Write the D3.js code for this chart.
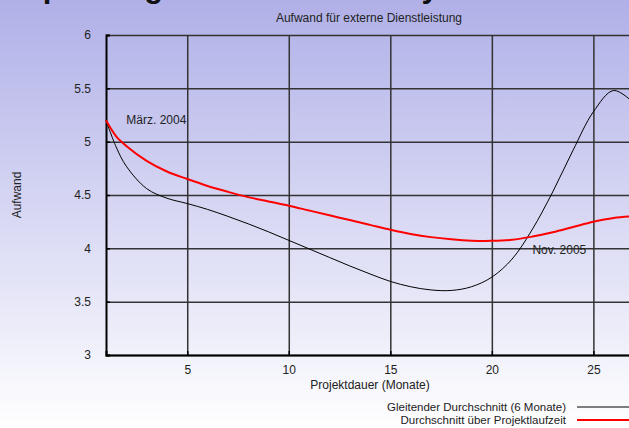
<!DOCTYPE html>
<html>
<head>
<meta charset="utf-8">
<script src="https://cdn.jsdelivr.net/npm/d3@7"></script>
<style>
  body { margin: 0; }
  svg { display: block; font-family: "Liberation Sans", Arial, sans-serif; }
</style>
</head>
<body>
<div class="chart"></div>
<script>
// data
const months = [1, 1.5, 2, 3, 4, 5, 6, 7, 8, 9, 10, 11, 12, 13, 14, 15, 16, 17, 18, 19, 20, 21, 22, 23, 24, 25, 26, 27];
const movingAvg = [5.2, 4.95, 4.77, 4.56, 4.47, 4.42, 4.365, 4.30, 4.23, 4.155, 4.075, 3.995, 3.915, 3.835, 3.76, 3.69, 3.64, 3.61, 3.605, 3.64, 3.73, 3.90, 4.18, 4.53, 4.92, 5.28, 5.48, 5.36];
const projectAvg = [5.2, 5.05, 4.96, 4.82, 4.72, 4.65, 4.585, 4.53, 4.48, 4.44, 4.40, 4.355, 4.31, 4.265, 4.22, 4.175, 4.135, 4.105, 4.085, 4.072, 4.07, 4.08, 4.11, 4.15, 4.20, 4.25, 4.285, 4.30];
const xTicks = [5, 10, 15, 20, 25];
const yTicks = [3, 3.5, 4, 4.5, 5, 5.5, 6];
const seriesNames = ["Gleitender Durchschnitt (6 Monate)", "Durchschnitt über Projektlaufzeit"];
const notes = [{ m: 2, v: 5.165, label: "März. 2004" }, { m: 22.0, v: 3.95, label: "Nov. 2005" }];

const W = 629, H = 428;
const margin = { top: 35, left: 106, bottom: 73 };

const svg = d3.select(".chart").append("svg")
    .attr("width", W)
    .attr("height", H);

const grad = svg.append("defs").append("linearGradient")
    .attr("id", "bg").attr("x1", 0).attr("y1", 0).attr("x2", 0).attr("y2", 1);
grad.append("stop").attr("offset", "0%").attr("stop-color", "#b0b0e8");
grad.append("stop").attr("offset", "100%").attr("stop-color", "#ffffff");

svg.append("rect").attr("width", W).attr("height", H).attr("fill", "url(#bg)");

// big title, mostly cut off at the top
svg.append("text")
    .attr("x", 22).attr("y", -3)
    .style("font-size", "31px").style("font-weight", "bold")
    .attr("fill", "#111")
    .text("Spending for external aid by month");

const x = d3.scaleLinear().domain([1, 27]).range([margin.left, 634]);
const y = d3.scaleLinear().domain([3, 6]).range([H - margin.bottom, margin.top]);

// grid
svg.append("g")
    .attr("transform", "translate(0," + y(3) + ")")
    .call(d3.axisBottom(x).tickValues(xTicks).tickSize(-(y(3) - y(6))).tickFormat(""))
    .call(g => g.select(".domain").remove())
    .selectAll("line").attr("stroke", "#333").attr("stroke-width", 1);

svg.append("g")
    .attr("transform", "translate(" + margin.left + ",0)")
    .call(d3.axisLeft(y).tickValues(yTicks).tickSize(-(634 - margin.left)).tickFormat(""))
    .call(g => g.select(".domain").remove())
    .selectAll("line").attr("stroke", "#333").attr("stroke-width", 1);

// axes with labels
const xAxis = svg.append("g")
    .attr("transform", "translate(0," + y(3) + ")")
    .call(d3.axisBottom(x).tickValues(xTicks).tickSize(-4).tickPadding(10));
xAxis.select(".domain").attr("stroke", "#000").attr("stroke-width", 2);

const yAxis = svg.append("g")
    .attr("transform", "translate(" + margin.left + ",0)")
    .call(d3.axisLeft(y).tickValues(yTicks).tickSize(-4).tickPadding(15).tickFormat(d3.format("")));
yAxis.select(".domain").attr("stroke", "#000").attr("stroke-width", 2);

svg.selectAll(".tick text").style("font-size", "12px").attr("fill", "#222")
    .style("font-family", "'Liberation Sans', Arial, sans-serif");
svg.selectAll(".tick line").attr("stroke-width", 1.5);

// lines
const line = (vals) => d3.line()
    .x((d, i) => x(months[i]))
    .y(d => y(d))
    .curve(d3.curveCatmullRom)(vals);

svg.append("path").attr("d", line(movingAvg))
    .attr("fill", "none").attr("stroke", "#000").attr("stroke-width", 1);
svg.append("path").attr("d", line(projectAvg))
    .attr("fill", "none").attr("stroke", "#f00").attr("stroke-width", 2);

// notes
svg.selectAll(".note").data(notes).enter().append("text")
    .attr("class", "note")
    .attr("x", d => x(d.m)).attr("y", d => y(d.v))
    .style("font-size", "12px").attr("fill", "#222")
    .text(d => d.label);

// titles
svg.append("text")
    .attr("x", 369).attr("y", 22)
    .attr("text-anchor", "middle")
    .style("font-size", "12px").attr("fill", "#222")
    .text("Aufwand für externe Dienstleistung");

svg.append("text")
    .attr("x", 370).attr("y", 389)
    .attr("text-anchor", "middle")
    .style("font-size", "12px").attr("fill", "#222")
    .text("Projektdauer (Monate)");

svg.append("text")
    .attr("transform", "translate(21,195) rotate(-90)")
    .attr("text-anchor", "middle")
    .style("font-size", "12px").attr("fill", "#222")
    .text("Aufwand");

// legend
const legend = svg.selectAll(".legend").data(seriesNames).enter().append("g")
    .attr("class", "legend")
    .attr("transform", (d, i) => "translate(0," + (407 + i * 13) + ")");

legend.append("text")
    .attr("x", 566).attr("y", 0).attr("dy", "0.35em")
    .attr("text-anchor", "end")
    .style("font-size", "11.5px").attr("fill", "#222")
    .text(d => d);

legend.append("line")
    .attr("x1", 577).attr("x2", 640)
    .attr("stroke", (d, i) => i === 0 ? "#000" : "#f00")
    .attr("stroke-width", (d, i) => i === 0 ? 1 : 2);
</script>
</body>
</html>
